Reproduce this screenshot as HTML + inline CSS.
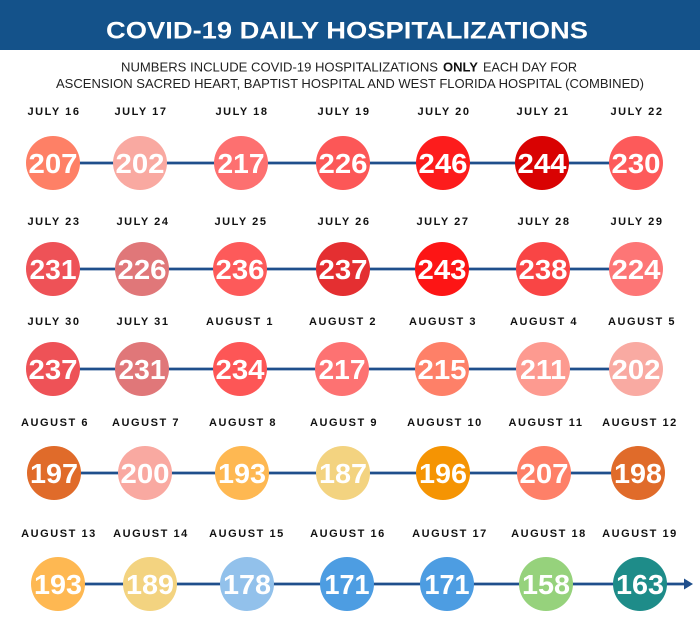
<!DOCTYPE html>
<html><head><meta charset="utf-8"><style>
html,body{margin:0;padding:0;background:#fff;width:700px;height:623px;overflow:hidden}
svg{display:block}
.t{font-family:"Liberation Sans",Arial,sans-serif}
.lab{font-family:"Liberation Sans",Arial,sans-serif;font-weight:bold;font-size:11px;letter-spacing:1.55px;fill:#111;text-anchor:middle}
.num{font-family:"Liberation Sans",Arial,sans-serif;font-weight:bold;font-size:28px;fill:#fff;text-anchor:middle}
</style></head><body>
<svg width="700" height="623" viewBox="0 0 700 623" xmlns="http://www.w3.org/2000/svg">
<rect x="0" y="0" width="700" height="50" fill="#14528a"/>
<text class="t" x="106" y="38.5" font-size="24" font-weight="bold" fill="#fff" textLength="482" lengthAdjust="spacingAndGlyphs">COVID-19 DAILY HOSPITALIZATIONS</text>
<text class="t" font-size="12.5" fill="#222"><tspan x="121" y="71.5" textLength="317" lengthAdjust="spacingAndGlyphs">NUMBERS INCLUDE COVID-19 HOSPITALIZATIONS</tspan><tspan x="443" y="71.5" font-weight="bold" fill="#111" textLength="35" lengthAdjust="spacingAndGlyphs">ONLY</tspan><tspan x="483" y="71.5" textLength="94" lengthAdjust="spacingAndGlyphs">EACH DAY FOR</tspan></text>
<text class="t" x="56" y="88" font-size="12.5" fill="#222" textLength="588" lengthAdjust="spacingAndGlyphs">ASCENSION SACRED HEART, BAPTIST HOSPITAL AND WEST FLORIDA HOSPITAL (COMBINED)</text>

<!-- lines -->
<g stroke="#1f4f8c" stroke-width="2.8">
<line x1="53" y1="163" x2="636" y2="163"/>
<line x1="53" y1="269" x2="636" y2="269"/>
<line x1="53" y1="369" x2="636" y2="369"/>
<line x1="54" y1="473" x2="638" y2="473"/>
<line x1="58" y1="584" x2="686" y2="584"/>
</g>
<polygon points="684,578.5 693,584 684,589.5" fill="#1f4f8c"/>

<!-- row 1 -->
<g>
<text class="lab" x="54" y="115">JULY 16</text>
<text class="lab" x="141" y="115">JULY 17</text>
<text class="lab" x="242" y="115">JULY 18</text>
<text class="lab" x="344" y="115">JULY 19</text>
<text class="lab" x="444" y="115">JULY 20</text>
<text class="lab" x="543" y="115">JULY 21</text>
<text class="lab" x="637" y="115">JULY 22</text>
<circle cx="53" cy="163" r="27" fill="#fe8066"/>
<circle cx="140" cy="163" r="27" fill="#f9a9a1"/>
<circle cx="241" cy="163" r="27" fill="#fd7070"/>
<circle cx="343" cy="163" r="27" fill="#fc5757"/>
<circle cx="443" cy="163" r="27" fill="#fd1c1c"/>
<circle cx="542" cy="163" r="27" fill="#d90202"/>
<circle cx="636" cy="163" r="27" fill="#fd5a5a"/>
<text class="num" x="53" y="173" textLength="49" lengthAdjust="spacingAndGlyphs">207</text>
<text class="num" x="140" y="173" textLength="49" lengthAdjust="spacingAndGlyphs">202</text>
<text class="num" x="241" y="173" textLength="47" lengthAdjust="spacingAndGlyphs">217</text>
<text class="num" x="343" y="173" textLength="49" lengthAdjust="spacingAndGlyphs">226</text>
<text class="num" x="443" y="173" textLength="49" lengthAdjust="spacingAndGlyphs">246</text>
<text class="num" x="542" y="173" textLength="49" lengthAdjust="spacingAndGlyphs">244</text>
<text class="num" x="636" y="173" textLength="49" lengthAdjust="spacingAndGlyphs">230</text>
</g>

<!-- row 2 -->
<g>
<text class="lab" x="54" y="225">JULY 23</text>
<text class="lab" x="143" y="225">JULY 24</text>
<text class="lab" x="241" y="225">JULY 25</text>
<text class="lab" x="344" y="225">JULY 26</text>
<text class="lab" x="443" y="225">JULY 27</text>
<text class="lab" x="544" y="225">JULY 28</text>
<text class="lab" x="637" y="225">JULY 29</text>
<circle cx="53" cy="269" r="27" fill="#ee5257"/>
<circle cx="142" cy="269" r="27" fill="#e07779"/>
<circle cx="240" cy="269" r="27" fill="#fd5a5a"/>
<circle cx="343" cy="269" r="27" fill="#e42f31"/>
<circle cx="442" cy="269" r="27" fill="#fd1515"/>
<circle cx="543" cy="269" r="27" fill="#f94545"/>
<circle cx="636" cy="269" r="27" fill="#fd7676"/>
<text class="num" x="53" y="279" textLength="47" lengthAdjust="spacingAndGlyphs">231</text>
<text class="num" x="142" y="279" textLength="49" lengthAdjust="spacingAndGlyphs">226</text>
<text class="num" x="240" y="279" textLength="49" lengthAdjust="spacingAndGlyphs">236</text>
<text class="num" x="343" y="279" textLength="49" lengthAdjust="spacingAndGlyphs">237</text>
<text class="num" x="442" y="279" textLength="49" lengthAdjust="spacingAndGlyphs">243</text>
<text class="num" x="543" y="279" textLength="49" lengthAdjust="spacingAndGlyphs">238</text>
<text class="num" x="636" y="279" textLength="49" lengthAdjust="spacingAndGlyphs">224</text>
</g>

<!-- row 3 -->
<g>
<text class="lab" x="54" y="325">JULY 30</text>
<text class="lab" x="143" y="325">JULY 31</text>
<text class="lab" x="240" y="325">AUGUST 1</text>
<text class="lab" x="343" y="325">AUGUST 2</text>
<text class="lab" x="443" y="325">AUGUST 3</text>
<text class="lab" x="544" y="325">AUGUST 4</text>
<text class="lab" x="642" y="325">AUGUST 5</text>
<circle cx="53" cy="369" r="27" fill="#ee5257"/>
<circle cx="142" cy="369" r="27" fill="#e07779"/>
<circle cx="240" cy="369" r="27" fill="#fd5656"/>
<circle cx="342" cy="369" r="27" fill="#fd7272"/>
<circle cx="442" cy="369" r="27" fill="#fe8068"/>
<circle cx="543" cy="369" r="27" fill="#fd9a90"/>
<circle cx="636" cy="369" r="27" fill="#f9aaa2"/>
<text class="num" x="53" y="379" textLength="49" lengthAdjust="spacingAndGlyphs">237</text>
<text class="num" x="142" y="379" textLength="47" lengthAdjust="spacingAndGlyphs">231</text>
<text class="num" x="240" y="379" textLength="49" lengthAdjust="spacingAndGlyphs">234</text>
<text class="num" x="342" y="379" textLength="47" lengthAdjust="spacingAndGlyphs">217</text>
<text class="num" x="442" y="379" textLength="49" lengthAdjust="spacingAndGlyphs">215</text>
<text class="num" x="543" y="379" textLength="46" lengthAdjust="spacingAndGlyphs">211</text>
<text class="num" x="636" y="379" textLength="49" lengthAdjust="spacingAndGlyphs">202</text>
</g>

<!-- row 4 -->
<g>
<text class="lab" x="55" y="426">AUGUST 6</text>
<text class="lab" x="146" y="426">AUGUST 7</text>
<text class="lab" x="243" y="426">AUGUST 8</text>
<text class="lab" x="344" y="426">AUGUST 9</text>
<text class="lab" x="445" y="426">AUGUST 10</text>
<text class="lab" x="546" y="426">AUGUST 11</text>
<text class="lab" x="640" y="426">AUGUST 12</text>
<circle cx="54" cy="473" r="27" fill="#e06b2a"/>
<circle cx="145" cy="473" r="27" fill="#f9a9a1"/>
<circle cx="242" cy="473" r="27" fill="#feb852"/>
<circle cx="343" cy="473" r="27" fill="#f3d380"/>
<circle cx="443" cy="473" r="27" fill="#f59403"/>
<circle cx="544" cy="473" r="27" fill="#fe8068"/>
<circle cx="638" cy="473" r="27" fill="#e06b2a"/>
<text class="num" x="54" y="483" textLength="48" lengthAdjust="spacingAndGlyphs">197</text>
<text class="num" x="145" y="483" textLength="49" lengthAdjust="spacingAndGlyphs">200</text>
<text class="num" x="242" y="483" textLength="48" lengthAdjust="spacingAndGlyphs">193</text>
<text class="num" x="343" y="483" textLength="48" lengthAdjust="spacingAndGlyphs">187</text>
<text class="num" x="443" y="483" textLength="48" lengthAdjust="spacingAndGlyphs">196</text>
<text class="num" x="544" y="483" textLength="49" lengthAdjust="spacingAndGlyphs">207</text>
<text class="num" x="638" y="483" textLength="48" lengthAdjust="spacingAndGlyphs">198</text>
</g>

<!-- row 5 -->
<g>
<text class="lab" x="59" y="537">AUGUST 13</text>
<text class="lab" x="151" y="537">AUGUST 14</text>
<text class="lab" x="247" y="537">AUGUST 15</text>
<text class="lab" x="348" y="537">AUGUST 16</text>
<text class="lab" x="450" y="537">AUGUST 17</text>
<text class="lab" x="549" y="537">AUGUST 18</text>
<text class="lab" x="640" y="537">AUGUST 19</text>
<circle cx="58" cy="584" r="27" fill="#feb852"/>
<circle cx="150" cy="584" r="27" fill="#f3d380"/>
<circle cx="247" cy="584" r="27" fill="#92c1eb"/>
<circle cx="347" cy="584" r="27" fill="#4d9de2"/>
<circle cx="447" cy="584" r="27" fill="#4d9de2"/>
<circle cx="546" cy="584" r="27" fill="#96d27c"/>
<circle cx="640" cy="584" r="27" fill="#1e8c89"/>
<text class="num" x="58" y="594" textLength="48" lengthAdjust="spacingAndGlyphs">193</text>
<text class="num" x="150" y="594" textLength="48" lengthAdjust="spacingAndGlyphs">189</text>
<text class="num" x="247" y="594" textLength="48" lengthAdjust="spacingAndGlyphs">178</text>
<text class="num" x="347" y="594" textLength="45" lengthAdjust="spacingAndGlyphs">171</text>
<text class="num" x="447" y="594" textLength="45" lengthAdjust="spacingAndGlyphs">171</text>
<text class="num" x="546" y="594" textLength="48" lengthAdjust="spacingAndGlyphs">158</text>
<text class="num" x="640" y="594" textLength="48" lengthAdjust="spacingAndGlyphs">163</text>
</g>
</svg>
</body></html>
